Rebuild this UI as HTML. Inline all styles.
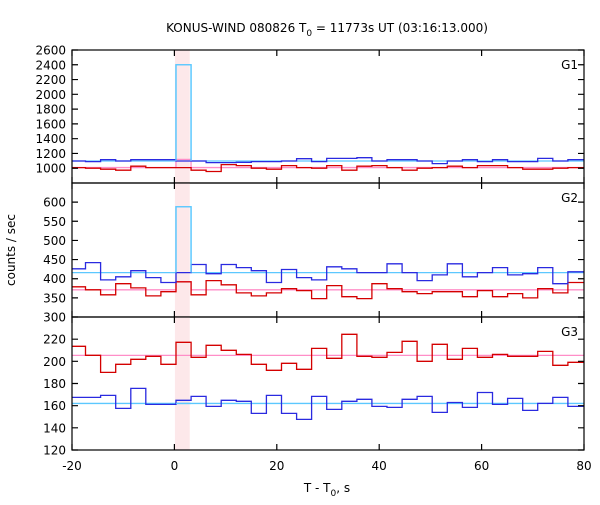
<!DOCTYPE html>
<html><head><meta charset="utf-8"><style>
body{margin:0;background:#fff;}
svg text{font-family:"DejaVu Sans","Liberation Sans",sans-serif;font-size:12px;fill:#000;}
</style></head><body>
<svg id="chart" width="600" height="500" xmlns="http://www.w3.org/2000/svg">
<text x="327" y="32" text-anchor="middle">KONUS-WIND 080826 T<tspan font-size="9" dy="4">0</tspan><tspan dy="-4"> = 11773s UT (03:16:13.000)</tspan></text>
<text x="327" y="492" text-anchor="middle">T - T<tspan font-size="9" dy="4">0</tspan><tspan dy="-4">, s</tspan></text>
<text transform="translate(15,250) rotate(-90)" text-anchor="middle">counts / sec</text>
<g id="plots"></g>
</svg>
<script>
const xTicks=[-20,0,20,40,60,80];
const binStart=-20.3, binWidth=2.944;
const shadeRange=[0.1,3.0];
const panelNames=["G1","G2","G3"];
const g1Blue=[1098,1089,1116,1098,1116,1116,1116,1098,1098,1076,1076,1080,1089,1089,1098,1129,1089,1133,1133,1142,1098,1116,1116,1098,1062,1098,1116,1089,1116,1089,1089,1133,1098,1116];
const g1Red=[1009,1000,987,973,1027,1009,1009,1009,973,956,1049,1036,1000,987,1036,1009,1000,1036,973,1027,1036,1009,973,1000,1009,1027,1009,1036,1036,1009,987,987,1000,1009];
const g2Blue=[426,442,397,405,421,403,390,416,437,413,437,429,421,390,424,403,397,431,426,416,416,439,416,395,410,439,405,416,429,410,413,429,387,418];
const g2Red=[379,371,358,387,376,355,366,392,358,395,384,363,355,363,374,369,348,382,353,348,387,374,366,361,366,366,353,369,353,361,350,374,363,390];
const g3Blue=[167.5,167.5,169.3,157.5,175.6,161.1,161.1,164.8,168.4,159.3,164.8,163.9,153,169.3,153,147.6,168.4,156.6,163.9,165.7,159.3,158.4,165.7,168.4,153.9,162.9,158.4,171.9,161.1,166.6,155.7,162,167.5,159.3];
const g3Red=[213.6,205.4,190,197.3,201.8,204.5,197.3,217.2,203.6,214.5,210,206.3,197.3,191.9,198.2,192.8,211.7,202.7,224.4,204.5,203.6,208.1,218.1,200,215.4,201.8,211.7,203.6,206.3,204.5,204.5,209,196.4,199.1];
const bgLevelsHigh=[1098,416,162];
const bgLevelsLow=[1009,371,205.4];
const spikeHigh=[2400,588,162];
const spikeLow=[1120,392,205.4];
const yTicksG1=[1000,1200,1400,1600,1800,2000,2200,2400,2600];
const yTicksG2=[300,350,400,450,500,550,600];
const yTicksG3=[120,140,160,180,200,220];
const yRanges=[[800,2600],[300,650],[120,240]];

const NS="http://www.w3.org/2000/svg";
const L=72,R=584;
const panelBox=[[50,183],[183,317],[317,450]];
const xs=t=>L+(t+20)/100*(R-L);
const root=document.getElementById('plots');
function mk(tag,attrs,parent){const e=document.createElementNS(NS,tag);for(const k in attrs)e.setAttribute(k,attrs[k]);(parent||root).appendChild(e);return e;}
const highs=[g1Blue,g2Blue,g3Blue], lows=[g1Red,g2Red,g3Red], yt=[yTicksG1,yTicksG2,yTicksG3];
const spikeBin=7;
function stepPath(vals,ys){let d="";for(let i=0;i<vals.length;i++){const a=Math.max(-20,binStart+i*binWidth);const b=i==vals.length-1?80:binStart+(i+1)*binWidth;const y=ys(vals[i]).toFixed(1);d+=(i==0?"M":"L")+xs(a).toFixed(1)+","+y+"L"+xs(b).toFixed(1)+","+y;}return d;}
for(let p=0;p<3;p++){
  const [top,bot]=panelBox[p],[v0,v1]=yRanges[p];
  const ys=v=>bot-(v-v0)/(v1-v0)*(bot-top);
  const g=mk('g',{});
  
  
  const sh=mk('rect',{x:xs(shadeRange[0]),y:top,width:xs(shadeRange[1])-xs(shadeRange[0]),height:bot-top,fill:'#fde8ea'},g);
  
  
  const sb0=binStart+spikeBin*binWidth, sb1=sb0+binWidth;
  const mkBg=(lvl,sp,col,name)=>{const d="M"+L+","+ys(lvl)+"L"+xs(sb0)+","+ys(lvl)+"L"+xs(sb0)+","+ys(sp)+"L"+xs(sb1)+","+ys(sp)+"L"+xs(sb1)+","+ys(lvl)+"L"+R+","+ys(lvl);
    const e=mk('path',{d:d,fill:'none',stroke:col,'stroke-width':1.3},g);
    
    };
  mkBg(bgLevelsLow[p],spikeLow[p],'#ff8ec8','background-level-low');
  mkBg(bgLevelsHigh[p],spikeHigh[p],'#5cc8ff','background-level-high');
  const lr=mk('path',{d:stepPath(lows[p],ys),fill:'none',stroke:'#d40000','stroke-width':1.3},g);
  
  
  const hb=mk('path',{d:stepPath(highs[p],ys),fill:'none',stroke:'#2a2ae0','stroke-width':1.3},g);
  
  
  const spk=mk('path',{d:"M"+xs(sb0)+","+ys(bgLevelsHigh[p])+"L"+xs(sb0)+","+ys(spikeHigh[p])+"L"+xs(sb1)+","+ys(spikeHigh[p])+"L"+xs(sb1)+","+ys(bgLevelsHigh[p]),fill:'none',stroke:'#5cc8ff','stroke-width':1.3},g);
  
  
  const fr=mk('rect',{x:L,y:top,width:R-L,height:bot-top,fill:'none',stroke:'#000','stroke-width':1.2},g);
  
  
  for(const t of xTicks){const x=xs(t);
    const tk=mk('path',{d:"M"+x+","+top+"v6M"+x+","+bot+"v-6",stroke:'#000','stroke-width':1.2},g);
    
    }
  for(const v of yt[p]){const y=ys(v);
    const tk=mk('path',{d:"M"+L+","+y+"h6M"+R+","+y+"h-6",stroke:'#000','stroke-width':1.2},g);
    
    
    const tl=mk('text',{x:L-6,y:y+4.5,'text-anchor':'end'},g);tl.textContent=v;
    
    }
  const pl=mk('text',{x:578,y:top+19,'text-anchor':'end'},g);pl.textContent=panelNames[p];
  
  
}
for(const t of xTicks){const tl=mk('text',{x:xs(t),y:470,'text-anchor':'middle'});tl.textContent=t;
  
  }
</script>
</body></html>
